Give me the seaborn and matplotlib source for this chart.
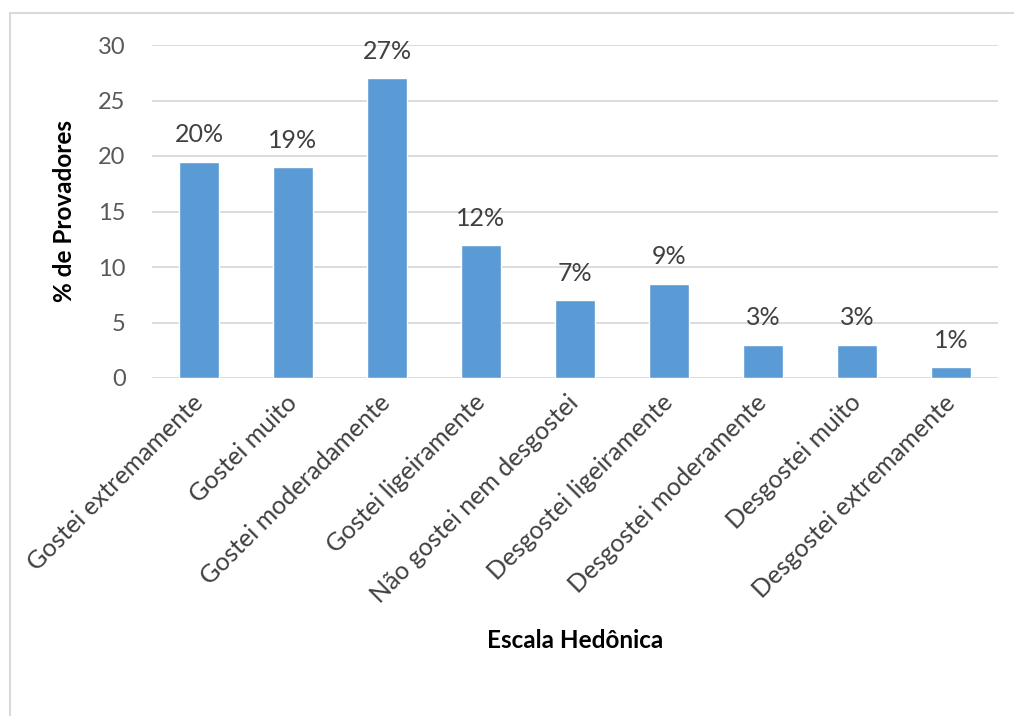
import math
import matplotlib
matplotlib.use("Agg")
import matplotlib.pyplot as plt
from matplotlib.patches import Rectangle
import seaborn as sns
import pandas as pd

categorias = [
    "Gostei extremamente",
    "Gostei muito",
    "Gostei moderadamente",
    "Gostei ligeiramente",
    "Não gostei nem desgostei",
    "Desgostei ligeiramente",
    "Desgostei moderamente",
    "Desgostei muito",
    "Desgostei extremamente",
]
provadores = [19.5, 19.0, 27.0, 12.0, 7.0, 8.5, 3.0, 3.0, 1.0]
yticks = [0, 5, 10, 15, 20, 25, 30]

sns.set_theme(style="white")
plt.rcParams["font.family"] = ["Lato", "DejaVu Sans"]

df = pd.DataFrame({"cat": categorias, "val": provadores})

fig = plt.figure(figsize=(10.14, 7.16), dpi=100)
ax = fig.add_axes([152 / 1014, 1 - 378 / 716, (998 - 152) / 1014, (378 - 45) / 716])

sns.barplot(data=df, x="cat", y="val", color="#5B9BD5", width=0.42,
            saturation=1, ax=ax, zorder=3)

ax.set_ylim(0, 30)
ax.set_xlim(-0.5, len(categorias) - 0.5)
ax.set_yticks(yticks)
ax.set_yticklabels([str(t) for t in yticks])
ax.yaxis.grid(True, color="#d9d9d9", linewidth=1.3, zorder=0)
ax.set_axisbelow(True)
for s in ax.spines.values():
    s.set_visible(False)
ax.tick_params(axis="both", length=0)
ax.tick_params(axis="y", labelsize=17, labelcolor="#595959", pad=19)
ax.tick_params(axis="x", labelsize=18, labelcolor="#404040", pad=15)
for lab in ax.get_xticklabels():
    lab.set_rotation(45)
    lab.set_ha("right")
    lab.set_va("center")
    lab.set_rotation_mode("anchor")

# value labels above each bar (rounded half up)
rotulos = [f"{math.floor(v + 0.5)}%" for v in provadores]
ax.bar_label(ax.containers[0], labels=rotulos, padding=11, fontsize=18,
             color="#404040")

ax.set_xlabel("Escala Hedônica", fontsize=17.5, fontweight="bold",
              color="black", labelpad=16)
ax.set_ylabel("% de Provadores", fontsize=17.5, fontweight="bold",
              color="black", labelpad=16)

# outer chart frame
fig.patches.append(Rectangle((10 / 1014, -0.05), 1.2, 1 - 13 / 716 + 0.05,
                             transform=fig.transFigure, fill=False,
                             edgecolor="#d9d9d9", linewidth=1.5))

fig.savefig("out.png", dpi=100, facecolor="white")
